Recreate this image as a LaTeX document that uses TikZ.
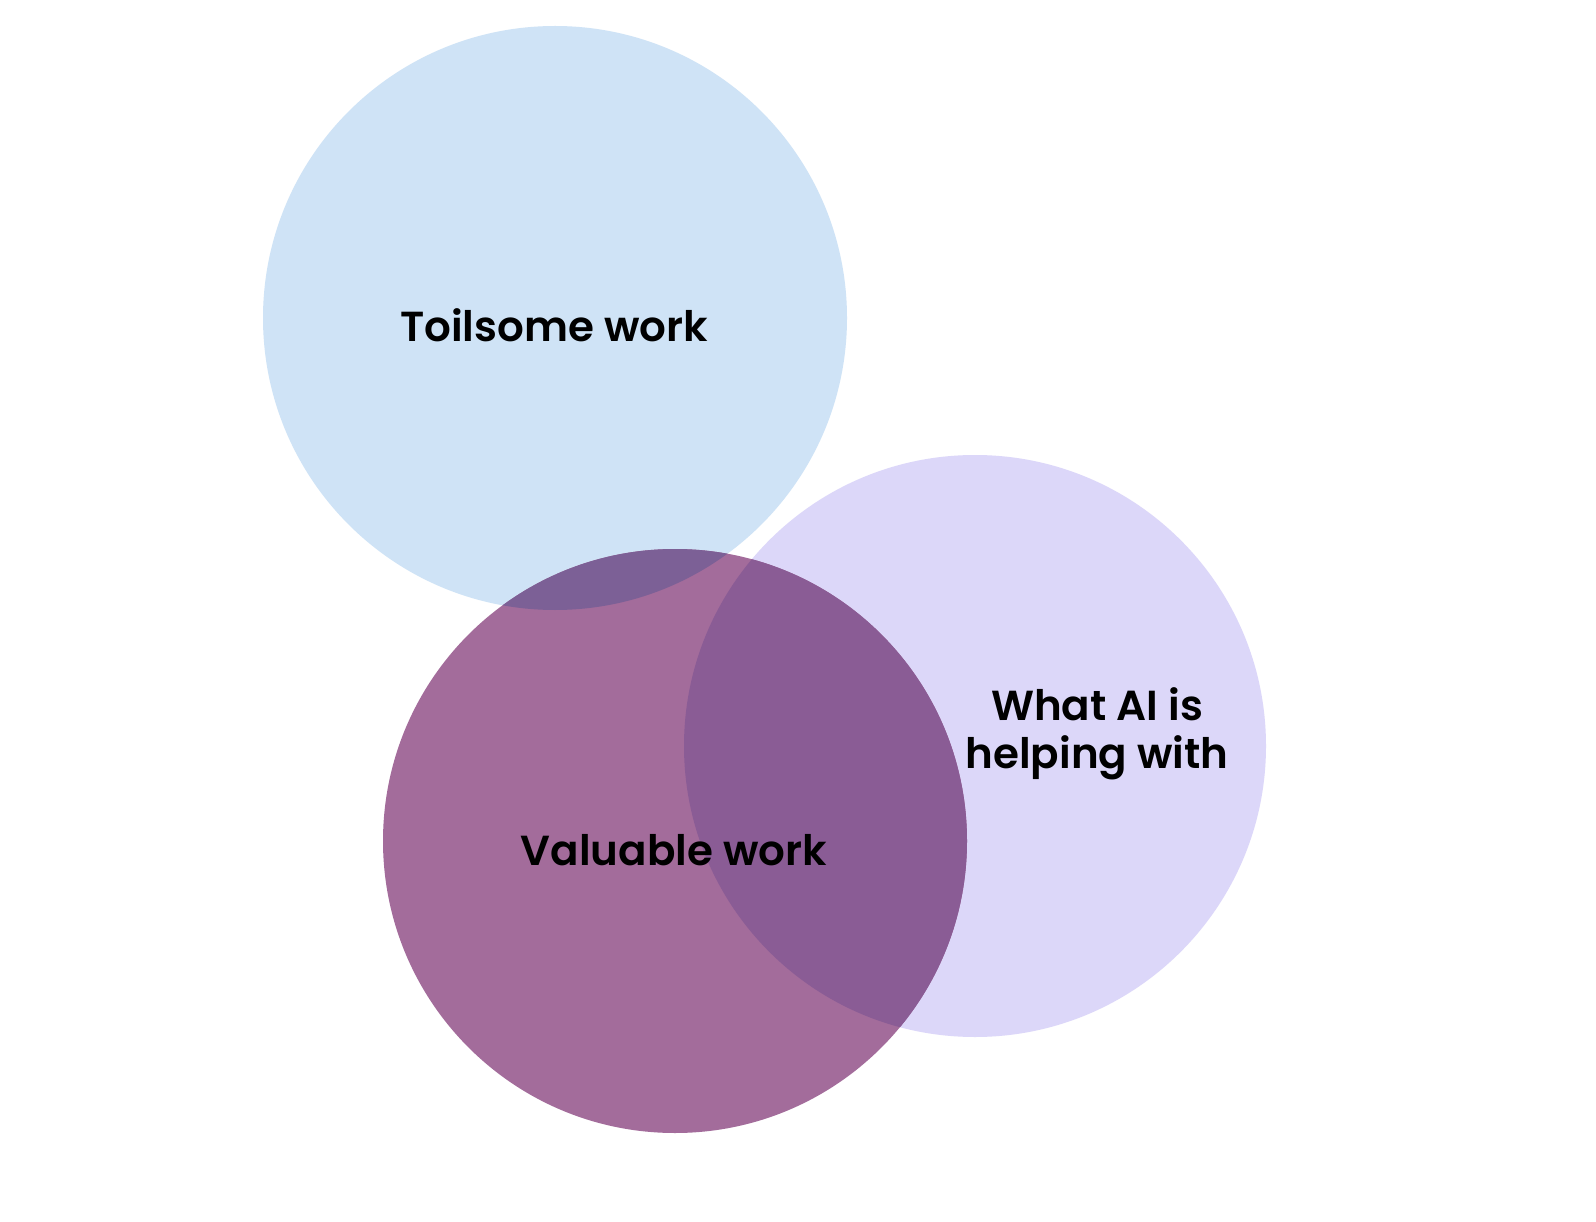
\documentclass[tikz,border=0pt]{standalone}
\usepackage{fontspec}
\setmainfont{Poppins}[BoldFont={Poppins SemiBold}]
\definecolor{toilblue}{HTML}{CFE3F6}
\definecolor{ailav}{HTML}{DCD7F9}
\definecolor{valpurple}{HTML}{A36C9B}
\definecolor{valai}{HTML}{8A5C95}
\definecolor{valtoil}{HTML}{7C6096}
\begin{document}
\begin{tikzpicture}[x=1pt,y=-1pt,
  lbl/.style={font=\fontsize{42}{48}\selectfont\bfseries, text=black, align=center, inner sep=0pt}]
\useasboundingbox (0,0) rectangle (1596,1222);
\fill[white] (0,0) rectangle (1596,1222);
% circles
\fill[toilblue] (555,318) circle (292);
\fill[ailav] (975,746) circle (291);
\fill[valpurple] (675,841) circle (292);
% overlaps
\begin{scope}
  \clip (675,841) circle (292);
  \fill[valtoil] (555,318) circle (292);
  \fill[valai] (975,746) circle (291);
\end{scope}
% labels
\node[lbl, anchor=base] (toil) at (554,342) {Toilsome work};
\node[lbl, anchor=base] (ai) at (1097,768) {What AI is\\helping with};
\node[lbl, anchor=base] (val) at (674,865) {Valuable work};
\end{tikzpicture}
\end{document}
